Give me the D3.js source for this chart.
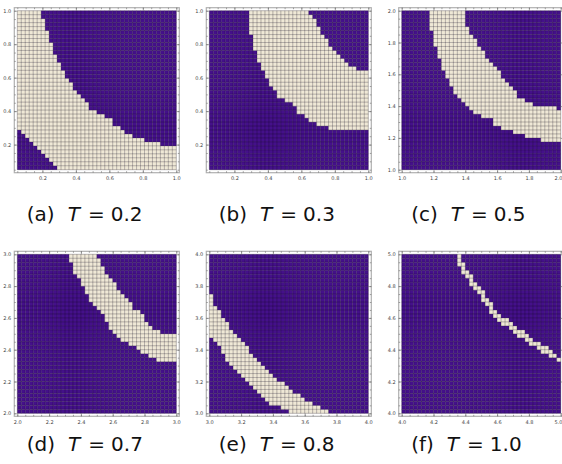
<!DOCTYPE html>
<html>
<head>
<style>
body {margin: 0; background: #fff;}
svg {display: block;}
.tick text {font-family: "DejaVu Sans"; font-size: 5px; fill: #444;}
.caption {font-family: "DejaVu Sans"; font-size: 20px; fill: #111;}
</style>
<script src="https://cdnjs.cloudflare.com/ajax/libs/d3/7.8.5/d3.min.js"></script>
</head>
<body>
<div id="chart-container"></div>
<script>
    // 40 x 40 grid per panel, rows counted from the bottom.
    // cream cells in column i are rows lo[i] .. hi[i]-1, everything else is purple
    const N = 40;

    const labels = ["(a)", "(b)", "(c)", "(d)", "(e)", "(f)"];
    const temps = ["0.2", "0.3", "0.5", "0.7", "0.8", "1.0"];
    const ranges = [[0.05, 1.0], [0.05, 1.0], [1, 2], [2, 3], [3, 4], [4, 5]];
    const tickLabels = [
        ["0.2", "0.4", "0.6", "0.8", "1.0"],
        ["0.2", "0.4", "0.6", "0.8", "1.0"],
        ["1.0", "1.2", "1.4", "1.6", "1.8", "2.0"],
        ["2.0", "2.2", "2.4", "2.6", "2.8", "3.0"],
        ["3.0", "3.2", "3.4", "3.6", "3.8", "4.0"],
        ["4.0", "4.2", "4.4", "4.6", "4.8", "5.0"]
    ];

    const loA = [10,9,8,7,6,5,4,3,2,1, 0,0,0,0,0,0,0,0,0,0, 0,0,0,0,0,0,0,0,0,0, 0,0,0,0,0,0,0,0,0,0];
    const hiA = [40,40,40,40,40,40,38,35,32,29, 27,25,23,22,20,19,18,17,15,15, 14,14,13,13,11,11,10,9,9,8, 8,8,7,7,7,7,6,6,6,6];

    const loB = [0,0,0,0,0,0,0,0,0,0, 34,30,27,25,23,21,20,18,18,17, 17,16,14,14,13,12,12,11,11,11, 10,10,10,10,10,10,10,10,10,10];
    const hiB = [0,0,0,0,0,0,0,0,0,0, 40,40,40,40,40,40,40,40,40,40, 40,40,40,40,40,39,38,36,34,33, 31,30,29,28,27,26,26,25,25,25];

    const loC = [0,0,0,0,0,0,0,35,31,28, 25,23,21,19,18,17,16,15,14,14, 13,13,13,11,11,10,10,10,9,9, 9,8,8,8,8,7,7,7,7,7];
    const hiC = [0,0,0,0,0,0,0,40,40,40, 40,40,40,40,40,40,36,34,33,31, 30,28,27,26,25,23,22,21,20,18, 18,17,17,16,16,16,16,16,16,15];

    const loD = [0,0,0,0,0,0,0,0,0,0, 0,0,0,38,35,34,32,30,28,27, 26,25,23,21,20,19,18,18,17,17, 16,15,15,14,14,13,13,13,13,13];
    const hiD = [0,0,0,0,0,0,0,0,0,0, 0,0,0,40,40,40,40,40,40,40, 39,37,35,34,33,31,30,29,28,26, 26,25,23,22,21,21,20,20,20,20];

    const loE = [19,18,17,15,13,12,11,10,9,8, 7,6,5,4,3,2,2,2,1,1, 0,0,0,0,0,0,0,0,0,0, 0,0,0,0,0,0,0,0,0,0];
    const hiE = [30,27,26,24,23,21,20,19,18,17, 15,14,13,12,11,10,9,8,8,7, 6,5,5,4,3,3,2,2,1,1, 0,0,0,0,0,0,0,0,0,0];

    const loF = [0,0,0,0,0,0,0,0,0,0, 0,0,0,0,37,35,34,32,31,30, 28,27,25,24,23,22,22,21,20,19, 19,18,17,17,16,15,15,14,14,13];
    const hiF = [0,0,0,0,0,0,0,0,0,0, 0,0,0,0,40,38,36,35,33,32, 31,29,28,26,25,24,24,23,22,21, 21,20,19,18,18,17,17,16,15,14];

    const los = [loA, loB, loC, loD, loE, loF];
    const his = [hiA, hiB, hiC, hiD, hiE, hiF];

    const purple = "#44108a";
    const cream = "#efe8d6";

    const colLeft = [17.3, 209.3, 401.7];
    const rowTop = [10.7, 254.3];
    const captionY = [221, 451];
    const size = 159;
    const pad = 3;

    const svg = d3.select("#chart-container")
        .append("svg")
        .attr("width", 562)
        .attr("height", 464);

    labels.forEach(function(label, k) {
        const left = colLeft[k % 3];
        const top = rowTop[Math.floor(k / 3)];
        const lo = los[k], hi = his[k];
        const g = svg.append("g");

        // cell index scales and value scales
        const ci = d3.scaleLinear().domain([0, N]).range([left, left + size]);
        const ri = d3.scaleLinear().domain([0, N]).range([top + size, top]);
        const x = d3.scaleLinear().domain(ranges[k]).range([left, left + size]);
        const y = d3.scaleLinear().domain(ranges[k]).range([top + size, top]);

        const cells = [];
        for (let i = 0; i < N; i++)
            for (let j = 0; j < N; j++)
                cells.push({i: i, j: j, on: j >= lo[i] && j < hi[i]});

        g.selectAll("rect.cell")
            .data(cells)
            .join("rect")
            .attr("class", "cell")
            .attr("x", d => ci(d.i))
            .attr("y", d => ri(d.j + 1))
            .attr("width", ci(1) - ci(0) + 0.1)
            .attr("height", ri(0) - ri(1) + 0.1)
            .attr("fill", d => d.on ? cream : purple);

        // mesh
        g.selectAll("line.mv")
            .data(d3.range(N + 1))
            .join("line")
            .attr("x1", d => ci(d)).attr("x2", d => ci(d))
            .attr("y1", top).attr("y2", top + size)
            .attr("stroke", "#100818").attr("stroke-opacity", 0.45).attr("stroke-width", 0.6);
        g.selectAll("line.mh")
            .data(d3.range(N + 1))
            .join("line")
            .attr("y1", d => ri(d)).attr("y2", d => ri(d))
            .attr("x1", left).attr("x2", left + size)
            .attr("stroke", "#100818").attr("stroke-opacity", 0.45).attr("stroke-width", 0.6);

        // frame
        const fx0 = left - pad, fx1 = left + size + pad;
        const fy0 = top - pad, fy1 = top + size + pad;
        g.append("rect")
            .attr("x", fx0).attr("y", fy0)
            .attr("width", fx1 - fx0).attr("height", fy1 - fy0)
            .attr("fill", "none")
            .attr("stroke", "#b0b0b0")
            .attr("stroke-width", 1.2);

        const major = tickLabels[k].map(Number);
        const minor = d3.range(Math.round(ranges[k][0] / 0.05), Math.round(ranges[k][1] / 0.05) + 1)
            .map(v => v * 0.05);
        const fmt = (d, i) => tickLabels[k][i];

        function style(sel) {
            sel.select(".domain").remove();
            sel.selectAll(".tick line").attr("stroke", "#666").attr("stroke-width", 0.6);
            sel.attr("font-family", null).attr("font-size", null);
        }

        const xAxis = g.append("g").attr("transform", `translate(0,${fy1})`)
            .call(d3.axisBottom(x).tickValues(major).tickFormat(fmt).tickSize(-3).tickPadding(4)).call(style);
        // the right column's last label sits at the page edge: keep it inside
        if (k % 3 === 2) {
            xAxis.selectAll(".tick:last-of-type text").attr("text-anchor", "end").attr("x", 1.2);
        }
        g.append("g").attr("transform", `translate(0,${fy1})`)
            .call(d3.axisBottom(x).tickValues(minor).tickFormat("").tickSize(-1.5)).call(style);
        g.append("g").attr("transform", `translate(0,${fy0})`)
            .call(d3.axisTop(x).tickValues(major).tickFormat("").tickSize(-3)).call(style);
        g.append("g").attr("transform", `translate(0,${fy0})`)
            .call(d3.axisTop(x).tickValues(minor).tickFormat("").tickSize(-1.5)).call(style);

        g.append("g").attr("transform", `translate(${fx0},0)`)
            .call(d3.axisLeft(y).tickValues(major).tickFormat(fmt).tickSize(-3).tickPadding(3)).call(style);
        g.append("g").attr("transform", `translate(${fx0},0)`)
            .call(d3.axisLeft(y).tickValues(minor).tickFormat("").tickSize(-1.5)).call(style);
        g.append("g").attr("transform", `translate(${fx1},0)`)
            .call(d3.axisRight(y).tickValues(major).tickFormat("").tickSize(-3)).call(style);
        g.append("g").attr("transform", `translate(${fx1},0)`)
            .call(d3.axisRight(y).tickValues(minor).tickFormat("").tickSize(-1.5)).call(style);

        // caption
        const cap = svg.append("text")
            .attr("class", "caption")
            .attr("x", left + 9.5)
            .attr("y", captionY[Math.floor(k / 3)]);
        cap.append("tspan").text(label);
        cap.append("tspan").attr("dx", 13).attr("font-style", "italic").text("T");
        cap.append("tspan").attr("dx", 8).text("=");
        cap.append("tspan").attr("dx", 6).text(temps[k]);
    });
</script>
</body>
</html>
